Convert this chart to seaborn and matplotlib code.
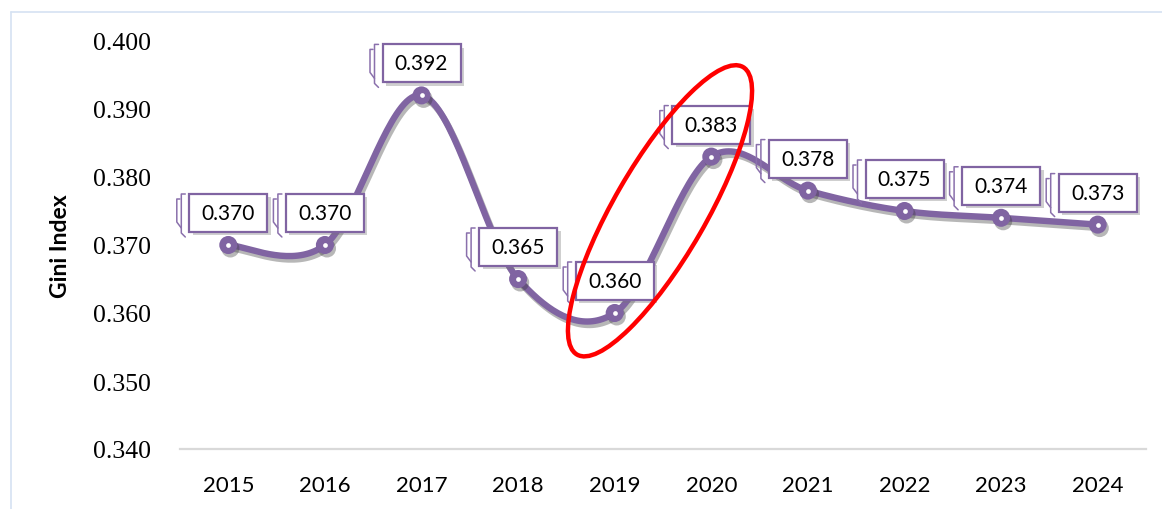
import numpy as np
import matplotlib
matplotlib.use("Agg")
import matplotlib.pyplot as plt
import matplotlib.patheffects as pe
from matplotlib.patches import Rectangle, Ellipse
from matplotlib.transforms import ScaledTranslation
from matplotlib.lines import Line2D
import seaborn as sns

# ---------------- data ----------------
years = ["2015", "2016", "2017", "2018", "2019", "2020", "2021", "2022", "2023", "2024"]
gini = [0.370, 0.370, 0.392, 0.365, 0.360, 0.383, 0.378, 0.375, 0.374, 0.373]
y_ticks = [0.340, 0.350, 0.360, 0.370, 0.380, 0.390, 0.400]
y_label = "Gini Index"
highlight_years = ["2019", "2020"]

# ---------------- style ----------------
PURPLE = "#8064A2"
BRACKET = "#8A70AC"
sns.set_theme(style="white")
plt.rcParams["font.family"] = ["Lato", "DejaVu Sans"]

W, H = 1162, 510
fig = plt.figure(figsize=(W / 100, H / 100), dpi=100)
fig.patch.set_facecolor("white")
ax = fig.add_axes([180 / W, 60 / H, 966 / W, 408 / H])
ax.set_facecolor("white")

xpos = np.arange(len(years), dtype=float)


def smooth(xs, ys, n=40):
    """Catmull-Rom style Bezier smoothing (like a spreadsheet's smoothed line)."""
    P = np.column_stack([xs, ys])
    out = []
    for i in range(len(P) - 1):
        p0 = P[i - 1] if i > 0 else P[i]
        p1, p2 = P[i], P[i + 1]
        p3 = P[i + 2] if i + 2 < len(P) else P[i + 1]
        c1 = p1 + (p2 - p0) / 6.0
        c2 = p2 - (p3 - p1) / 6.0
        t = np.linspace(0, 1, n)[:, None]
        seg = (1 - t) ** 3 * p1 + 3 * (1 - t) ** 2 * t * c1 + 3 * (1 - t) * t ** 2 * c2 + t ** 3 * p2
        out.append(seg if i == 0 else seg[1:])
    return np.vstack(out)


curve = smooth(xpos, np.array(gini))
sns.lineplot(x=curve[:, 0], y=curve[:, 1], sort=False, estimator=None, ax=ax,
             color=PURPLE, linewidth=4.6, zorder=3)
line = ax.lines[-1]
line.set_solid_capstyle("round")
line.set_path_effects([pe.SimpleLineShadow(offset=(1.5, -2.5), shadow_color="#333333", alpha=0.35),
                       pe.Normal()])

sns.scatterplot(x=xpos, y=gini, s=13 ** 2, color=PURPLE, edgecolor=PURPLE, linewidth=0,
                ax=ax, zorder=4)
ax.collections[-1].set_path_effects([pe.SimplePatchShadow(offset=(1.5, -2.5), shadow_rgbFace="#333333",
                                                          alpha=0.35), pe.Normal()])
sns.scatterplot(x=xpos, y=gini, s=3.4 ** 2, color="white", edgecolor="white", linewidth=0,
                ax=ax, zorder=5)

# ---------------- axes ----------------
ax.set_xlim(-0.5, len(years) - 0.5)
ax.set_ylim(y_ticks[0], y_ticks[-1])
ax.set_xticks(xpos)
ax.set_xticklabels(years, fontsize=16, color="black")
ax.set_yticks(y_ticks)
ax.set_yticklabels([f"{v:.3f}" for v in y_ticks], fontsize=18.5, color="black",
                   family=["Liberation Serif", "DejaVu Serif"])
ax.tick_params(axis="x", length=0, pad=19)
ax.tick_params(axis="y", length=0, pad=21)
for s in ["top", "right", "left"]:
    ax.spines[s].set_visible(False)
ax.spines["bottom"].set_color("#D9D9D9")
ax.spines["bottom"].set_linewidth(1.6)
ax.grid(False)
ax.set_xlabel("")
ax.set_ylabel(y_label, fontsize=16.5, fontweight="bold", color="black")
ax.yaxis.set_label_coords(-0.113, 0.5)

# ---------------- data labels (boxes above points) ----------------
px = 1 / 100.0  # one pixel in inches
bw, bh, gap = 78 * px, 38 * px, 13 * px
for x, v in zip(xpos, gini):
    tr = fig.dpi_scale_trans + ScaledTranslation(x, v, ax.transData)
    L, B = -bw / 2, gap
    T = B + bh
    rect = Rectangle((L, B), bw, bh, transform=tr, facecolor="white", edgecolor=PURPLE,
                     linewidth=1.6, zorder=6, clip_on=False)
    rect.set_path_effects([pe.SimplePatchShadow(offset=(2.5, -2.5), shadow_rgbFace="#777777", alpha=0.35),
                           pe.Normal()])
    ax.add_patch(rect)
    # decorative bracket marks left of the box
    b1 = [(L - 9.5 * px, T - 5 * px), (L - 12.5 * px, T - 5 * px), (L - 12.5 * px, B + 10 * px),
          (L - 8 * px, B + 4 * px)]
    b2 = [(L - 4 * px, T), (L - 8 * px, T), (L - 8 * px, B - 1 * px), (L - 4 * px, B - 5 * px)]
    for pts in (b1, b2):
        pts = np.array(pts)
        ax.add_line(Line2D(pts[:, 0], pts[:, 1], transform=tr, color=BRACKET, linewidth=1.1,
                           zorder=5.5, clip_on=False))
    ax.text(0, B + bh / 2, f"{v:.3f}", transform=tr, ha="center", va="center",
            fontsize=15, color="black", zorder=7)

# ---------------- red highlight ellipse ----------------
i0, i1 = years.index(highlight_years[0]), years.index(highlight_years[1])
cx = (xpos[i0] + xpos[i1]) / 2
cy = (gini[i0] + gini[i1]) / 2
etr = fig.dpi_scale_trans + ScaledTranslation(cx, cy, ax.transData)
ell = Ellipse((-0.03, 0.24), 3.32, 0.92, angle=60, transform=etr, fill=False,
              edgecolor="#FF0000", linewidth=3.2, zorder=8, clip_on=False)
ax.add_patch(ell)

# ---------------- faint outer frame ----------------
fig.add_artist(Line2D([10.5 / W, 1.0], [1 - 12.5 / H] * 2, transform=fig.transFigure,
                      color="#D5E2F2", linewidth=1.2))
fig.add_artist(Line2D([10.5 / W] * 2, [0.0, 1 - 12.5 / H], transform=fig.transFigure,
                      color="#D5E2F2", linewidth=1.2))

fig.savefig("out.png", dpi=100, facecolor="white")
